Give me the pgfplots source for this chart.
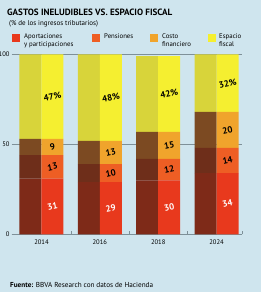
\documentclass[border=0pt]{standalone}
\usepackage{pgfplots}
\pgfplotsset{compat=1.18}
\usepackage{fontspec}
\setmainfont{PT Sans}
\definecolor{bg}{HTML}{CFE5EE}
\definecolor{cA}{HTML}{E8391D}
\definecolor{cB}{HTML}{EE5E24}
\definecolor{cC}{HTML}{F0A42C}
\definecolor{cD}{HTML}{F5EF30}
\definecolor{dA}{HTML}{7E2A18}
\definecolor{dB}{HTML}{6E2E1A}
\definecolor{dC}{HTML}{7C4A22}
\definecolor{dD}{HTML}{D8D43A}
\definecolor{gridc}{HTML}{7E9098}
\pgfplotsset{
  base/.style={at={(20,32)}, anchor=south west, scale only axis,
    width=230pt, height=198pt, xmin=-0.51, xmax=3.43, ymin=0, ymax=110},
}
\begin{document}
\begin{tikzpicture}[x=1pt,y=1pt]
\fill[bg] (0,0) rectangle (261,292);
\node[anchor=base west, inner sep=0, font=\bfseries\fontsize{9.1}{11}\selectfont] at (7,276) {GASTOS INELUDIBLES VS. ESPACIO FISCAL};
\node[anchor=base west, inner sep=0, font=\fontsize{7}{8}\selectfont] at (9,266) {(\% de los ingresos tributarios)};
\fill[cA] (12,250) rectangle (20,258);
\fill[cB] (92,250) rectangle (100,258);
\fill[cC] (150,250) rectangle (158,258);
\fill[cD] (208,250) rectangle (216,258);
\node[anchor=north west, align=left, inner sep=0, font=\fontsize{6.8}{8}\selectfont] at (24,259) {Aportaciones\\y participaciones};
\node[anchor=north west, align=left, inner sep=0, font=\fontsize{6.8}{8}\selectfont] at (104,259) {Pensiones};
\node[anchor=north west, align=left, inner sep=0, font=\fontsize{6.8}{8}\selectfont] at (162,259) {Costo\\financiero};
\node[anchor=north west, align=left, inner sep=0, font=\fontsize{6.8}{8}\selectfont] at (219,259) {Espacio\\fiscal};
\node[anchor=base west, inner sep=0, font=\fontsize{7.2}{8}\selectfont] at (10,5) {\textbf{Fuente:} BBVA Research con datos de Hacienda};

% left (dark) faces + axis
\begin{axis}[base, ybar stacked,
  every axis plot/.append style={bar width=22pt, bar shift=-11pt, draw=none},
  axis lines*=left, y axis line style={draw=none},
  x axis line style={gridc},
  ytick={0,50,100}, ymajorgrids, grid style={gridc, line width=0.5pt},
  xtick={0,1,2,3}, xticklabels={2014,2016,2018,2024},
  minor xtick={0.5,1.5,2.5,3.43}, tick align=inside,
  major tick length=0pt, minor tick length=3pt,
  minor tick style={gridc},
  /pgf/number format/assume math mode=true,
  tick label style={font=\fontsize{6.6}{8}\selectfont},
  yticklabel style={anchor=east, inner sep=0pt, xshift=-2pt},
  xticklabel style={yshift=-2pt}]
\addplot[fill=dA] coordinates {(0,31) (1,29) (2,30) (3,34)};
\addplot[fill=dB] coordinates {(0,13) (1,10) (2,12) (3,14)};
\addplot[fill=dC] coordinates {(0,9) (1,13) (2,15) (3,20)};
\addplot[fill=dD] coordinates {(0,47) (1,48) (2,42) (3,32)};
\end{axis}

% right (bright) faces
\begin{axis}[base, ybar stacked, hide axis,
  every axis plot/.append style={bar width=22pt, bar shift=11pt, draw=none}]
\addplot[fill=cA] coordinates {(0,31) (1,29) (2,30) (3,34)};
\addplot[fill=cB] coordinates {(0,13) (1,10) (2,12) (3,14)};
\addplot[fill=cC] coordinates {(0,9) (1,13) (2,15) (3,20)};
\addplot[fill=cD] coordinates {(0,47) (1,48) (2,42) (3,32)};
\end{axis}

% value labels
\begin{axis}[base, hide axis,
  nodes near coords, point meta=explicit symbolic,
  every node near coord/.append style={anchor=center, xshift=11pt, rotate=12, font=\bfseries\fontsize{9}{10}\selectfont}]
\addplot[draw=none, mark=none, nodes near coords style={text=white}] coordinates {(0,15.5) [31] (1,14.5) [29] (2,15) [30] (3,17) [34]};
\addplot[draw=none, mark=none, nodes near coords style={text=black}] coordinates {(0,37.5) [13] (1,34) [10] (2,36) [12] (3,41) [14]};
\addplot[draw=none, mark=none, nodes near coords style={text=black}] coordinates {(0,48.5) [9] (1,45.5) [13] (2,49.5) [15] (3,58) [20]};
\addplot[draw=none, mark=none, nodes near coords style={text=black}] coordinates {(0,76.5) [47\%] (1,76) [48\%] (2,78) [42\%] (3,84) [32\%]};
\end{axis}
\pgfresetboundingbox
\useasboundingbox (0,0) rectangle (261,292);
\end{tikzpicture}
\end{document}
